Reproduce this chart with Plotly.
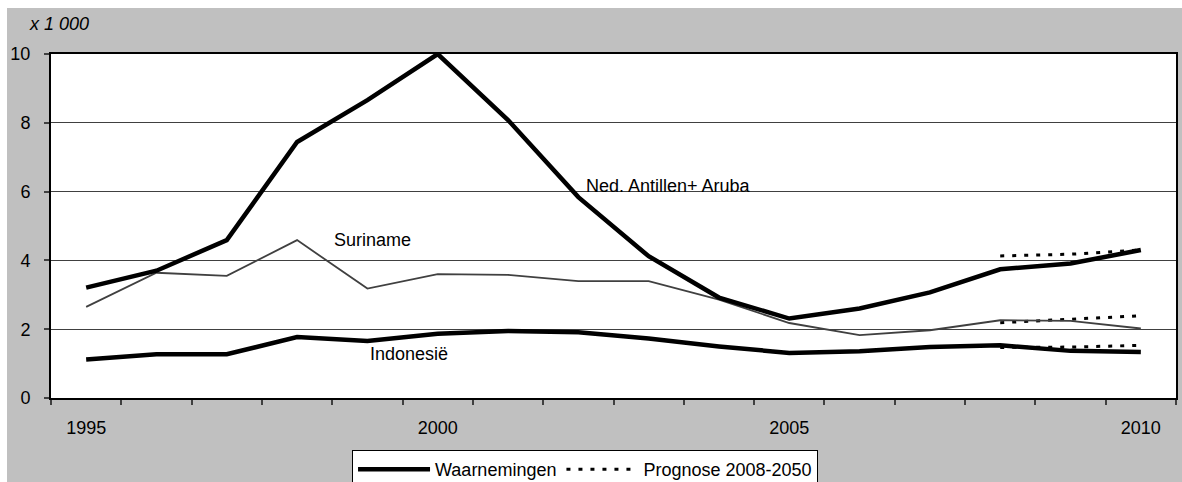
import plotly.graph_objects as go

years = list(range(1995, 2011))
ned_antillen = [3.21, 3.70, 4.59, 7.44, 8.66, 10.0, 8.08, 5.84, 4.12, 2.92, 2.31, 2.60, 3.07, 3.74, 3.91, 4.30]
suriname = [2.65, 3.64, 3.55, 4.59, 3.18, 3.60, 3.58, 3.40, 3.40, 2.86, 2.18, 1.83, 1.97, 2.26, 2.24, 2.02]
indonesie = [1.12, 1.27, 1.27, 1.77, 1.66, 1.87, 1.95, 1.91, 1.73, 1.50, 1.31, 1.36, 1.48, 1.53, 1.37, 1.34]

prog_years = [2008, 2009, 2010]
prog_ned = [4.13, 4.18, 4.30]
prog_sur = [2.19, 2.28, 2.39]
prog_ind = [1.47, 1.48, 1.53]

x_tick_labels = ["1995", "2000", "2005", "2010"]
x_tick_vals = [1995, 2000, 2005, 2010]
y_tick_vals = [0, 2, 4, 6, 8, 10]

series_labels = ["Ned. Antillen+ Aruba", "Suriname", "Indonesië"]
legend_names = ["Waarnemingen", "Prognose 2008-2050"]

FONT = "Liberation Sans, Arial, sans-serif"
FS = 18

fig = go.Figure()

for i, vals in enumerate([prog_ned, prog_sur, prog_ind]):
    fig.add_trace(go.Scatter(
        x=prog_years, y=vals, mode="lines",
        line=dict(color="black", width=3, dash="4px,8px"),
        name=legend_names[1], showlegend=False, hoverinfo="skip"))

fig.add_trace(go.Scatter(x=years, y=suriname, mode="lines",
                         line=dict(color="#404040", width=1.8),
                         showlegend=False))
fig.add_trace(go.Scatter(x=years, y=ned_antillen, mode="lines",
                         line=dict(color="black", width=4.5),
                         name=legend_names[0], showlegend=True))
fig.add_trace(go.Scatter(x=years, y=indonesie, mode="lines",
                         line=dict(color="black", width=4.5),
                         showlegend=False))
fig.add_trace(go.Scatter(x=[None], y=[None], mode="lines",
                         line=dict(color="black", width=3, dash="4px,8px"),
                         name=legend_names[1], showlegend=True))

fig.update_layout(
    width=1182, height=482,
    autosize=False,
    margin=dict(l=51, r=6, t=54, b=84, autoexpand=False),
    paper_bgcolor="#C0C0C0",
    plot_bgcolor="white",
    font=dict(family=FONT, size=FS, color="black"),
    showlegend=True,
    legend=dict(
        orientation="h", x=0.4747, xanchor="center", y=-0.151, yanchor="top",
        bgcolor="white", bordercolor="black", borderwidth=1,
        font=dict(family=FONT, size=FS, color="black"),
        itemwidth=72, tracegroupgap=0,
    ),
    xaxis=dict(
        range=[1994.5, 2010.5],
        tickvals=x_tick_vals, ticktext=x_tick_labels,
        ticks="", showgrid=False, zeroline=False,
        showline=True, linecolor="black", linewidth=2, mirror=True,
        ticklabelstandoff=12, automargin=False,
        tickfont=dict(family=FONT, size=FS, color="black"),
        minor=dict(tick0=1994.5, dtick=1, ticks="outside", ticklen=5,
                   tickwidth=1.5, tickcolor="#404040", showgrid=False),
        fixedrange=True,
    ),
    yaxis=dict(
        range=[0, 10], tickvals=y_tick_vals,
        ticks="outside", ticklen=5, tickwidth=1.5, tickcolor="#404040",
        showgrid=True, gridcolor="#404040", gridwidth=1,
        zeroline=False, automargin=False,
        showline=True, linecolor="black", linewidth=2, mirror=True,
        ticklabelstandoff=10,
        tickfont=dict(family=FONT, size=FS, color="black"),
        fixedrange=True,
    ),
    shapes=[
        dict(type="rect", xref="paper", yref="paper", x0=-0.1, x1=1.1,
             y0=1.1337, y1=1.3, fillcolor="white", line=dict(width=0), layer="below"),
        dict(type="rect", xref="paper", yref="paper", x0=-0.1, x1=-0.0391,
             y0=-0.5, y1=1.3, fillcolor="white", line=dict(width=0), layer="below"),
    ],
    annotations=[
        dict(text="<i>x 1 000</i>", xref="paper", yref="paper", x=-0.0213, y=1.087,
             xanchor="left", yanchor="middle", showarrow=False,
             font=dict(family=FONT, size=FS, color="black")),
        dict(text=series_labels[0], x=2003.28, y=6.16, showarrow=False,
             xanchor="center", yanchor="middle", font=dict(family=FONT, size=FS, color="black")),
        dict(text=series_labels[1], x=1999.07, y=4.59, showarrow=False,
             xanchor="center", yanchor="middle", font=dict(family=FONT, size=FS, color="black")),
        dict(text=series_labels[2], x=1999.59, y=1.27, showarrow=False,
             xanchor="center", yanchor="middle", font=dict(family=FONT, size=FS, color="black")),
    ],
)

fig.write_html("out.html", config={"responsive": False, "displayModeBar": False},
               post_script="document.body.style.margin='0';document.body.style.overflow='hidden';")
